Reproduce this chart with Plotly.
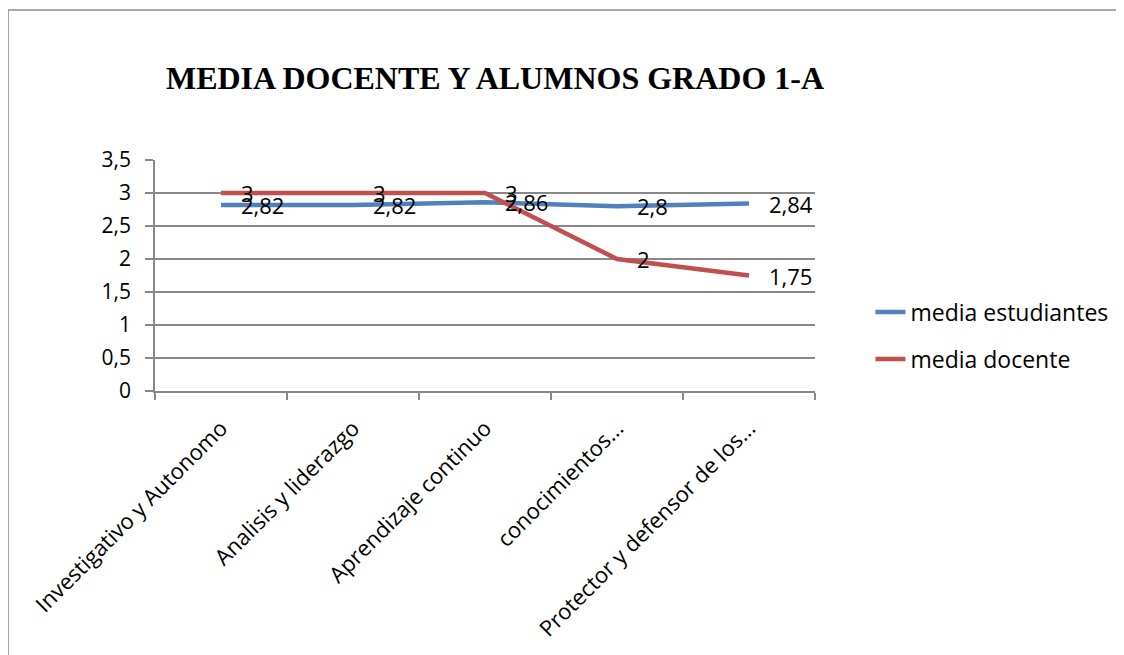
import plotly.graph_objs as go

categories = ['Investigativo y Autonomo', 'Analisis y liderazgo', 'Aprendizaje continuo',
              'conocimientos...', 'Protector y defensor de los...']
media_estudiantes = [2.82, 2.82, 2.86, 2.8, 2.84]
media_docente = [3, 3, 3, 2, 1.75]

blue = '#4F81BD'
red = '#C0504D'
grid = '#888888'
font = 'Open Sans, Calibri, sans-serif'

fig = go.Figure()
fig.add_trace(go.Scatter(x=categories, y=media_estudiantes, mode='lines', name='media estudiantes',
                         line=dict(color=blue, width=4.5), legendgroup='a'))
fig.add_trace(go.Scatter(x=categories, y=media_docente, mode='lines', name='media docente',
                         line=dict(color=red, width=4.5), legendgroup='b'))

# data labels to the right of each point
for vals in (media_estudiantes, media_docente):
    for c, v in zip(categories, vals):
        fig.add_annotation(x=c, y=v, text=f'{v:g}'.replace('.', ','), showarrow=False,
                           xanchor='left', yanchor='middle', xshift=18,
                           font=dict(family=font, size=22, color='black'))

# outer chart border
fig.add_shape(type='rect', xref='paper', yref='paper', x0=-0.2227, x1=1.5, y0=-1.3, y1=1.649,
              line=dict(color='#8C8C8C', width=1.5), fillcolor='rgba(0,0,0,0)', layer='below')

# page body has an 8px margin, so the figure is sized to the visible window
fig.update_layout(
    width=1116, height=647,
    margin=dict(l=147, r=309, t=152, b=264, autoexpand=False),
    paper_bgcolor='white', plot_bgcolor='white',
    separators=',.',
    title=dict(text='<b>MEDIA DOCENTE Y ALUMNOS GRADO 1-A</b>', x=0.4364, xref='container', xanchor='center',
               y=0.892, yref='container', yanchor='middle',
               font=dict(family='Liberation Serif, Times New Roman, serif', size=32, color='black')),
    legend=dict(x=1.084, y=0.24, xanchor='left', yanchor='middle', traceorder='grouped',
                tracegroupgap=14, font=dict(family=font, size=23, color='black'),
                bgcolor='rgba(0,0,0,0)'),
    showlegend=True,
)
fig.update_yaxes(range=[0, 3.5], dtick=0.5, showgrid=True, gridcolor=grid, gridwidth=1.5,
                 showline=True, linecolor=grid, linewidth=1.5, ticks='outside', ticklen=8,
                 tickcolor=grid, tickwidth=1.5, zeroline=False, ticklabelstandoff=10,
                 automargin=False, tickfont=dict(family=font, size=21, color='black'))
fig.update_xaxes(range=[-0.5, 4.5], showgrid=False, showline=True, linecolor=grid, linewidth=1.5,
                 ticks='outside', ticklen=7, tickcolor=grid, tickwidth=1.5, tickson='boundaries',
                 tickangle=-45, automargin=False, ticklabelstandoff=14,
                 tickfont=dict(family=font, size=22, color='black'))

fig.write_html('out.html')
